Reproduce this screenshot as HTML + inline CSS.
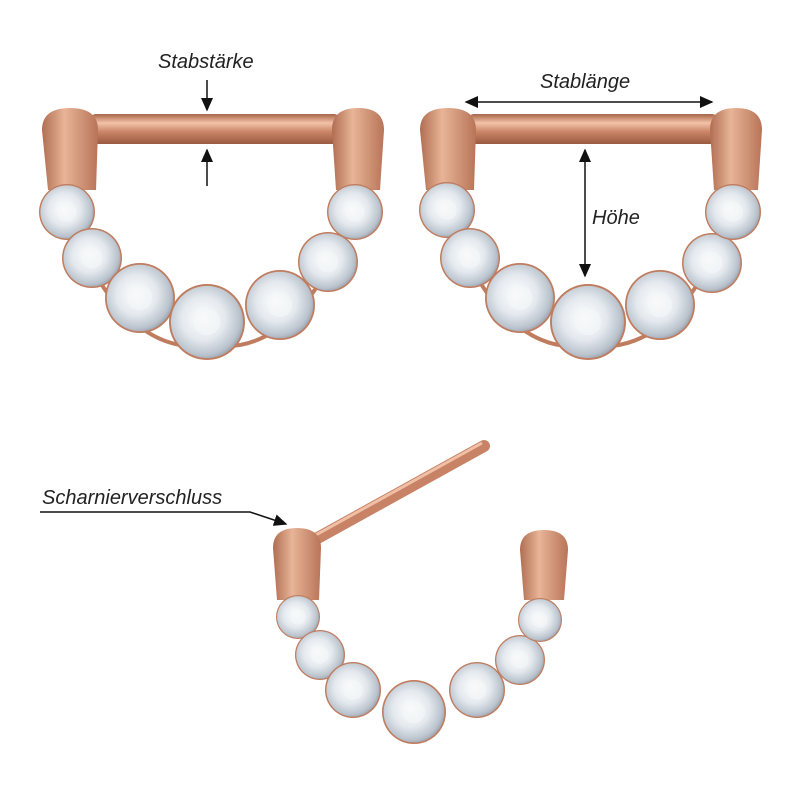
<!DOCTYPE html>
<html><head><meta charset="utf-8"><style>
html,body{margin:0;padding:0;background:#fff;width:800px;height:800px;overflow:hidden}
text{font-family:"Liberation Sans",sans-serif;font-style:italic;font-size:20px;fill:#222}
</style></head><body>
<svg width="800" height="800" viewBox="0 0 800 800" xmlns="http://www.w3.org/2000/svg">
<defs>
<linearGradient id="bar" x1="0" y1="0" x2="0" y2="1">
<stop offset="0" stop-color="#a8654a"/><stop offset="0.3" stop-color="#f2c2a8"/><stop offset="0.6" stop-color="#c98466"/><stop offset="1" stop-color="#9a5a40"/></linearGradient>
<linearGradient id="cap" x1="0" y1="0" x2="1" y2="0">
<stop offset="0" stop-color="#b06e52"/><stop offset="0.4" stop-color="#e8b497"/><stop offset="1" stop-color="#b87458"/></linearGradient>
<radialGradient id="gem" cx="0.45" cy="0.45" r="0.6">
<stop offset="0" stop-color="#ffffff"/><stop offset="0.5" stop-color="#e4e9ee"/><stop offset="0.85" stop-color="#b9c2cc"/><stop offset="1" stop-color="#8f98a4"/></radialGradient>
<marker id="ah" markerWidth="10" markerHeight="10" refX="8" refY="5" orient="auto"><path d="M0,1 L9,5 L0,9 z" fill="#111"/></marker>
<g id="g"><circle r="1" fill="#c07c5e"/><circle r="0.95" fill="url(#gem)"/><circle r="0.35" fill="#f4f6f8" opacity="0.7"/></g>
</defs>

<rect x="90" y="114" width="250" height="30" rx="6" fill="url(#bar)"/>
<path d="M42,130 Q42,108 70,108 Q98,108 98,130 L96,190 L48,190 Z" fill="url(#cap)"/>
<path d="M332,130 Q332,108 358,108 Q384,108 384,130 L380,190 L336,190 Z" fill="url(#cap)"/>
<path d="M60,200 Q120,360 210,345 Q300,360 360,200" fill="none" stroke="#c07c5e" stroke-width="4"/>
<use href="#g" transform="translate(67,212) scale(28)"/>
<use href="#g" transform="translate(92,258) scale(30)"/>
<use href="#g" transform="translate(140,298) scale(35)"/>
<use href="#g" transform="translate(207,322) scale(38)"/>
<use href="#g" transform="translate(280,305) scale(35)"/>
<use href="#g" transform="translate(328,262) scale(30)"/>
<use href="#g" transform="translate(355,212) scale(28)"/>

<rect x="468" y="114" width="250" height="30" rx="6" fill="url(#bar)"/>
<path d="M420,130 Q420,108 448,108 Q476,108 476,130 L474,190 L426,190 Z" fill="url(#cap)"/>
<path d="M710,130 Q710,108 736,108 Q762,108 762,130 L758,190 L714,190 Z" fill="url(#cap)"/>
<path d="M440,200 Q500,360 588,345 Q680,360 738,200" fill="none" stroke="#c07c5e" stroke-width="4"/>
<use href="#g" transform="translate(447,210) scale(28)"/>
<use href="#g" transform="translate(470,258) scale(30)"/>
<use href="#g" transform="translate(520,298) scale(35)"/>
<use href="#g" transform="translate(588,322) scale(38)"/>
<use href="#g" transform="translate(660,305) scale(35)"/>
<use href="#g" transform="translate(712,263) scale(30)"/>
<use href="#g" transform="translate(733,212) scale(28)"/>

<line x1="305" y1="545" x2="484" y2="446" stroke="#c88367" stroke-width="12" stroke-linecap="round"/>
<line x1="305" y1="541" x2="482" y2="443" stroke="#f0c0a6" stroke-width="3"/>
<path d="M273,548 Q273,528 297,528 Q321,528 321,548 L319,600 L277,600 Z" fill="url(#cap)"/>
<path d="M520,550 Q520,530 544,530 Q568,530 568,550 L564,600 L524,600 Z" fill="url(#cap)"/>
<use href="#g" transform="translate(298,617) scale(22)"/>
<use href="#g" transform="translate(320,655) scale(25)"/>
<use href="#g" transform="translate(353,690) scale(28)"/>
<use href="#g" transform="translate(414,712) scale(32)"/>
<use href="#g" transform="translate(477,690) scale(28)"/>
<use href="#g" transform="translate(520,660) scale(25)"/>
<use href="#g" transform="translate(540,620) scale(22)"/>

<text x="158" y="68">Stabstärke</text>
<line x1="207" y1="80" x2="207" y2="110" stroke="#111" stroke-width="1.5" marker-end="url(#ah)"/>
<line x1="207" y1="186" x2="207" y2="150" stroke="#111" stroke-width="1.5" marker-end="url(#ah)"/>
<text x="540" y="88">Stablänge</text>
<line x1="590" y1="102" x2="712" y2="102" stroke="#111" stroke-width="1.5" marker-end="url(#ah)"/>
<line x1="590" y1="102" x2="466" y2="102" stroke="#111" stroke-width="1.5" marker-end="url(#ah)"/>
<text x="592" y="224">Höhe</text>
<line x1="585" y1="210" x2="585" y2="150" stroke="#111" stroke-width="1.5" marker-end="url(#ah)"/>
<line x1="585" y1="210" x2="585" y2="276" stroke="#111" stroke-width="1.5" marker-end="url(#ah)"/>
<text x="42" y="504">Scharnierverschluss</text>
<polyline points="40,512 250,512 286,524" fill="none" stroke="#111" stroke-width="1.5" marker-end="url(#ah)"/>
</svg>
</body></html>
